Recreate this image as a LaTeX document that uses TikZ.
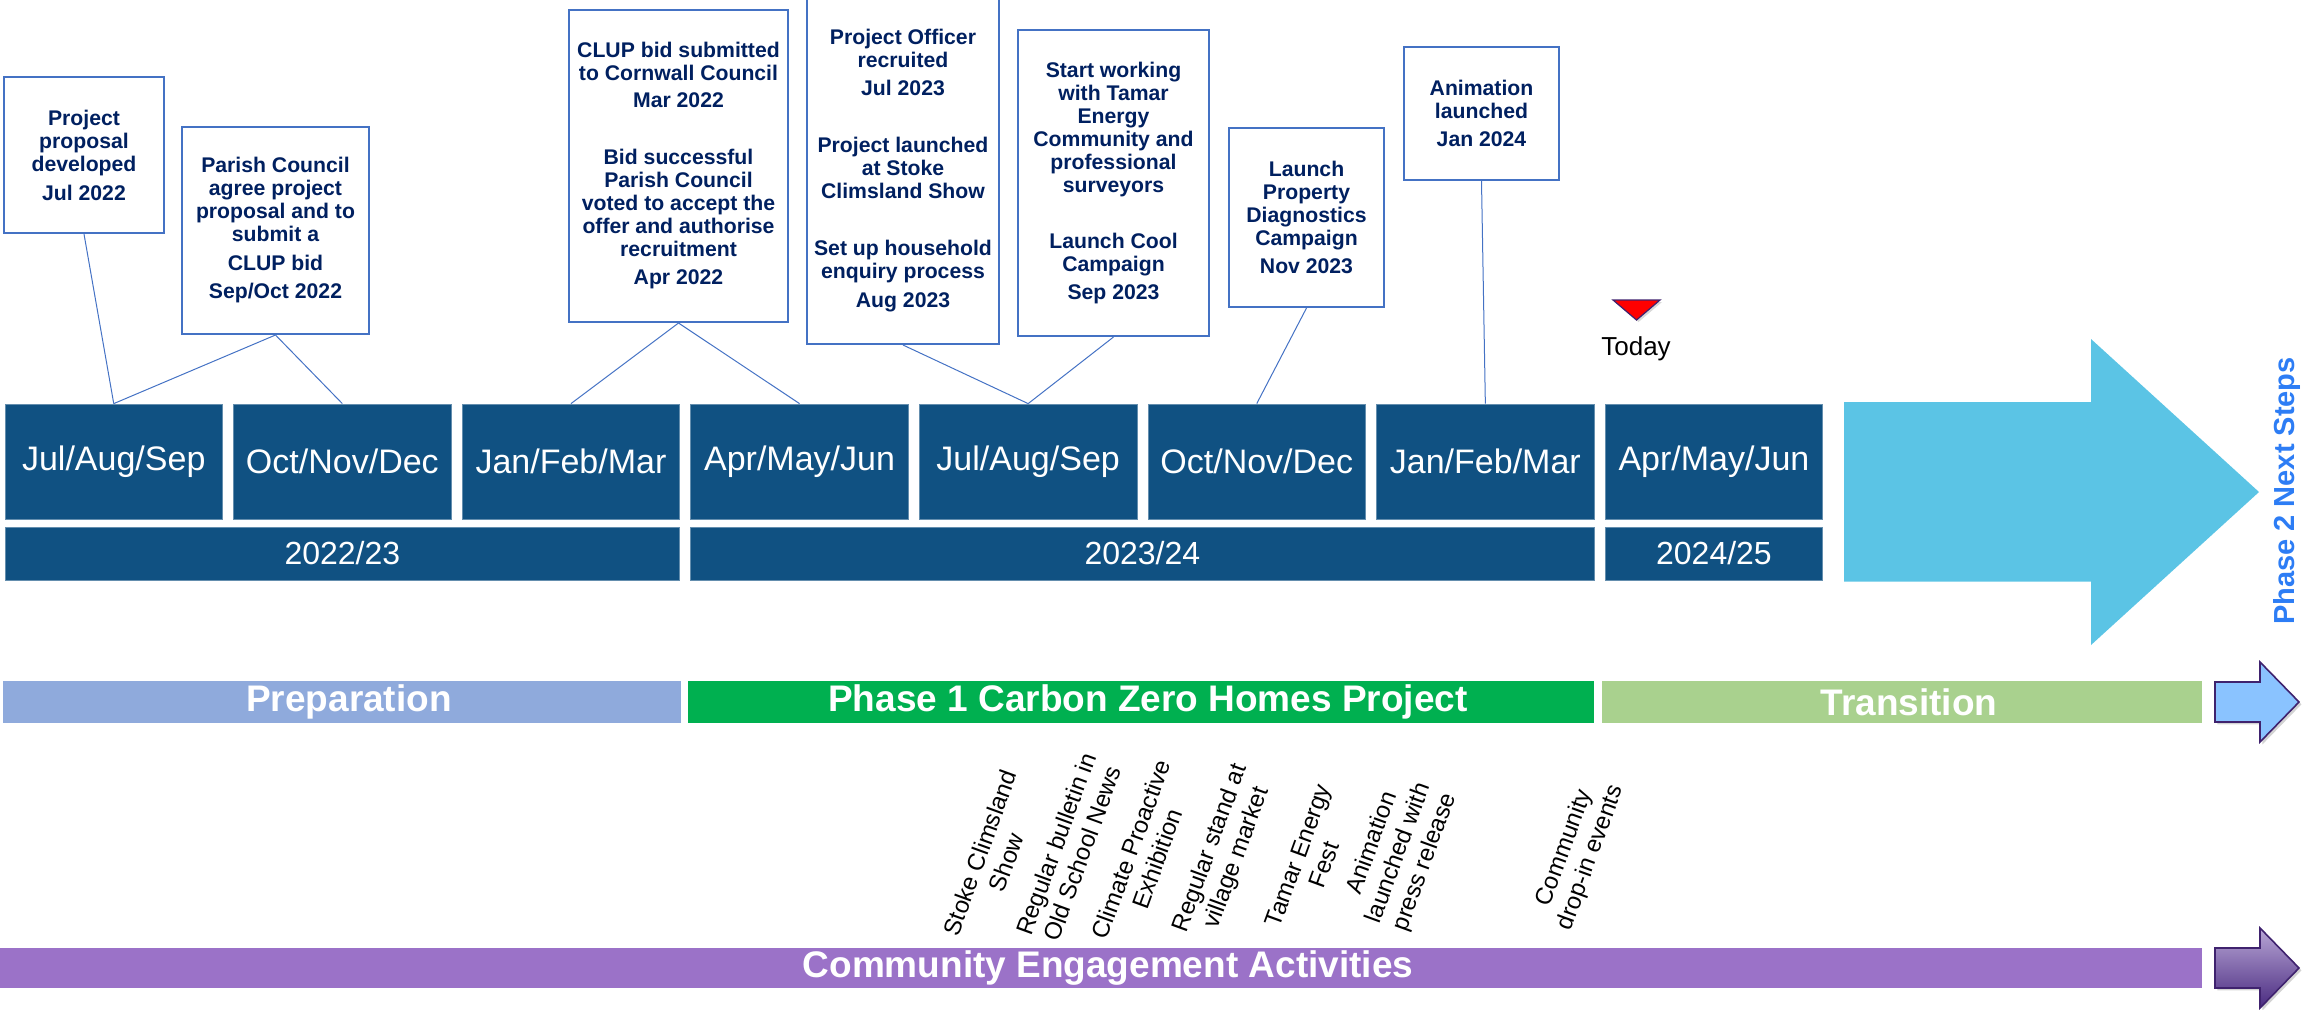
\documentclass[tikz,border=0pt]{standalone}
\usepackage{fontspec}
\setmainfont{Liberation Sans}
\usetikzlibrary{shadows}
\definecolor{qblue}{RGB}{16,81,130}
\definecolor{evline}{RGB}{68,114,196}
\definecolor{evtext}{RGB}{0,32,96}
\definecolor{prepc}{RGB}{143,170,220}
\definecolor{phgreen}{RGB}{0,176,80}
\definecolor{trgreen}{RGB}{169,209,142}
\definecolor{engpurple}{RGB}{155,114,200}
\definecolor{bigarrow}{RGB}{91,196,229}
\definecolor{ph2text}{RGB}{45,125,245}
\definecolor{arrblue}{RGB}{138,195,255}
\definecolor{arrborder}{RGB}{63,34,110}
\definecolor{purtop}{RGB}{184,166,214}
\definecolor{purbot}{RGB}{74,43,128}
\tikzset{
  qbox/.style={fill=qblue, draw=qblue!65!white, line width=0.4pt, text=white, inner sep=0pt,
    minimum width=108.75pt, minimum height=57.5pt, font=\fontsize{17}{20}\selectfont},
  ybox/.style={fill=qblue, draw=qblue!65!white, line width=0.4pt, text=white, inner sep=0pt,
    minimum height=26.5pt, font=\fontsize{16}{19}\selectfont},
  evbox/.style={draw=evline, line width=1pt, fill=white, text=evtext, inner sep=0pt,
    align=center, font=\bfseries\fontsize{10.6}{11.5}\selectfont},
  conn/.style={draw=evline, line width=0.5pt},
  phasebar/.style={text=white, inner sep=0pt, font=\bfseries\fontsize{18.5}{21}\selectfont},
  engtext/.style={rotate=70, align=center, inner sep=0pt, font=\fontsize{12}{14}\selectfont},
  smallarrow/.style={draw=arrborder, line width=0.8pt, line join=miter,
    drop shadow={shadow xshift=1.2pt, shadow yshift=-1.2pt, opacity=0.35}}
}
\begin{document}
\begin{tikzpicture}[x=0.5pt, y=-0.5pt]
\useasboundingbox (0,0) rectangle (2303,1009);

% quarter boxes
\node[qbox] (q1) at (113.75,461.5) {Jul/Aug/Sep};
\node[qbox] (q2) at (342.35,461.5) {Oct/Nov/Dec};
\node[qbox] (q3) at (570.95,461.5) {Jan/Feb/Mar};
\node[qbox] (q4) at (799.55,461.5) {Apr/May/Jun};
\node[qbox] (q5) at (1028.15,461.5) {Jul/Aug/Sep};
\node[qbox] (q6) at (1256.75,461.5) {Oct/Nov/Dec};
\node[qbox] (q7) at (1485.35,461.5) {Jan/Feb/Mar};
\node[qbox] (q8) at (1713.95,461.5) {Apr/May/Jun};

% year boxes
\node[ybox, minimum width=337.35pt] (y1) at (342.35,553.5) {2022/23};
\node[ybox, minimum width=451.6pt] (y2) at (1142.4,553.5) {2023/24};
\node[ybox, minimum width=108.75pt] (y3) at (1713.95,553.5) {2024/25};

% big arrow
\fill[bigarrow] (1844,402) -- (2091,402) -- (2091,339) -- (2259,492) -- (2091,645)
  -- (2091,581.5) -- (1844,581.5) -- cycle;
\node[rotate=90, text=ph2text, inner sep=0pt, font=\bfseries\fontsize{14.5}{17}\selectfont]
  (ph2) at (2287,491) {Phase 2 Next Steps};

% today marker
\filldraw[fill=red, draw=arrborder, line width=0.6pt,
  drop shadow={shadow xshift=1pt, shadow yshift=-1pt, opacity=0.3}]
  (1613,300) -- (1660,300) -- (1636.5,320) -- cycle;
\node[inner sep=0pt, font=\fontsize{13}{15}\selectfont] (today) at (1636,349) {Today};

% event boxes
\node[evbox, minimum width=80pt, minimum height=78pt] (A) at (84,155)
  {Project\\proposal\\developed\\[3pt]Jul 2022};
\node[evbox, minimum width=93.5pt, minimum height=103.5pt] (B) at (275.5,230.5)
  {Parish Council\\agree project\\proposal and to\\submit a\\[3pt]CLUP bid\\[2.5pt]Sep/Oct 2022};
\node[evbox, minimum width=109.5pt, minimum height=156pt] (C) at (678.5,166)
  {CLUP bid submitted\\to Cornwall Council\\[2pt]Mar 2022\\[17pt]Bid successful\\Parish Council\\voted to accept the\\offer and authorise\\recruitment\\[2.5pt]Apr 2022};
\node[evbox, minimum width=96pt, minimum height=173.5pt] (D) at (903,170.5)
  {Project Officer\\recruited\\[2.5pt]Jul 2023\\[17pt]Project launched\\at Stoke\\Climsland Show\\[17pt]Set up household\\enquiry process\\[3pt]Aug 2023};
\node[evbox, minimum width=95.5pt, minimum height=153pt] (E) at (1113.5,183)
  {Start working\\with Tamar\\Energy\\Community and\\professional\\surveyors\\[16.5pt]Launch Cool\\Campaign\\[2.5pt]Sep 2023};
\node[evbox, minimum width=77.5pt, minimum height=89.5pt] (F) at (1306.5,217.5)
  {Launch\\Property\\Diagnostics\\Campaign\\[2.5pt]Nov 2023};
\node[evbox, minimum width=77.5pt, minimum height=66.5pt] (G) at (1481.5,113.5)
  {Animation\\launched\\[2.5pt]Jan 2024};

% connectors
\draw[conn] (A.south) -- (q1.north);
\draw[conn] (B.south) -- (q1.north);
\draw[conn] (B.south) -- (q2.north);
\draw[conn] (C.south) -- (q3.north);
\draw[conn] (C.south) -- (q4.north);
\draw[conn] (D.south) -- (q5.north);
\draw[conn] (E.south) -- (q5.north);
\draw[conn] (F.south) -- (q6.north);
\draw[conn] (G.south) -- (q7.north);

% phase bars
\node[phasebar, fill=prepc, minimum width=339pt, minimum height=21pt] (prep) at (342,702) {\hspace*{7pt}Preparation};
\node[phasebar, fill=phgreen, minimum width=453pt, minimum height=21pt] (ph1) at (1141,702) {\hspace*{7pt}Phase 1 Carbon Zero Homes Project};
\node[phasebar, fill=trgreen, minimum width=300pt, minimum height=21pt] (trans) at (1902,702) {\hspace*{7pt}Transition};
\node[phasebar, fill=engpurple, minimum width=1101pt, minimum height=20pt] (eng) at (1101,968) {\hspace*{7pt}Community Engagement Activities};

% small arrows
\path[smallarrow, fill=arrblue] (2215,682) -- (2260,682) -- (2260,662) -- (2299,702)
  -- (2260,742) -- (2260,722) -- (2215,722) -- cycle;
\path[smallarrow, top color=purtop, bottom color=purbot] (2215,948) -- (2260,948) -- (2260,928)
  -- (2299,968) -- (2260,1008) -- (2260,988) -- (2215,988) -- cycle;

% engagement activities
\node[engtext] (e1) at (993,857.5) {Stoke Climsland\\Show};
\node[engtext] (e2) at (1069,848.5) {Regular bulletin in\\Old School News};
\node[engtext] (e3) at (1144,854) {Climate Proactive\\Exhibition};
\node[engtext] (e4) at (1224,853) {Regular stand at\\village market};
\node[engtext] (e5) at (1311,860) {Tamar Energy\\Fest};
\node[engtext] (e6) at (1399,853) {Animation\\launched with\\press release};
\node[engtext] (e7) at (1578,853) {Community\\drop-in events};
\end{tikzpicture}
\end{document}
